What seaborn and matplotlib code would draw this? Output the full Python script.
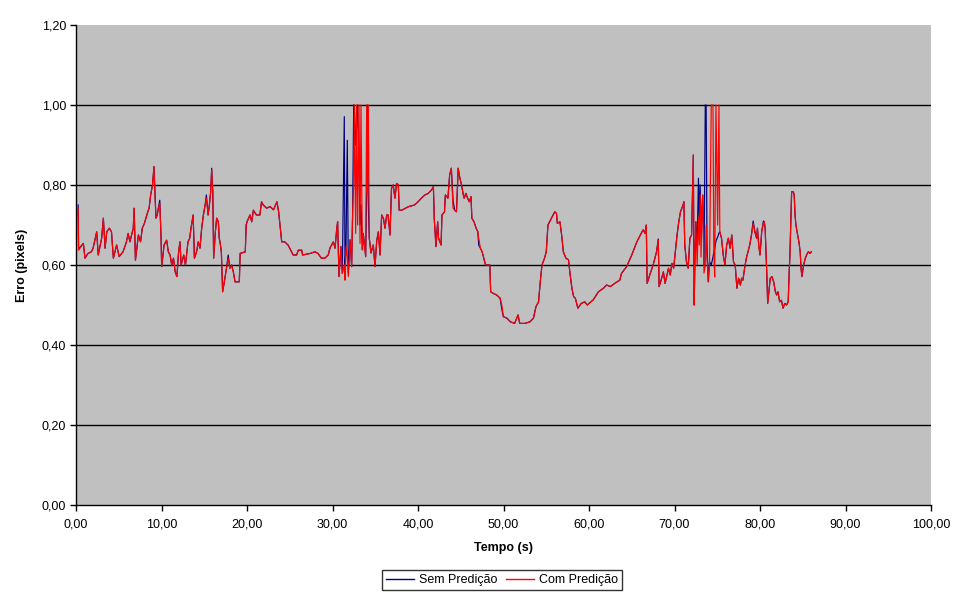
import matplotlib
matplotlib.use("Agg")
import matplotlib.pyplot as plt
import seaborn as sns
import pandas as pd
from matplotlib.ticker import FuncFormatter, MultipleLocator

# ---------------- data ----------------
tempo = [
    # 0 - 11 s
    0.25, 0.3, 0.86, 1.05, 1.4, 1.8, 2.0, 2.42, 2.6, 3.0,
    3.2, 3.4, 3.6, 3.9, 4.15, 4.37, 4.75, 5.05, 5.5, 5.9,
    6.1, 6.3, 6.7, 6.8, 6.95, 7.3, 7.55, 7.75, 8.0, 8.34,
    8.55, 8.73, 8.95, 9.12, 9.24, 9.35, 9.5, 9.63, 9.8, 9.95,
    10.02, 10.3, 10.6, 10.8, 11.0,
    # 11 - 22 s
    11.2, 11.4, 11.6, 11.8, 12.0, 12.16, 12.3, 12.6, 12.8, 13.1,
    13.3, 13.45, 13.7, 13.85, 14.1, 14.3, 14.5, 14.7, 14.9, 15.1,
    15.25, 15.45, 15.6, 15.75, 15.87, 16.0, 16.1, 16.3, 16.45, 16.65,
    16.75, 16.84, 17.0, 17.15, 17.35, 17.6, 17.8, 18.0, 18.2, 18.4,
    18.6, 18.9, 19.1, 19.2, 19.8, 19.9, 20.0, 20.35, 20.55, 20.75,
    21.1, 21.5, 21.7, 21.9,
    # 22 - 30.5 s
    22.3, 22.7, 23.1, 23.5, 23.7, 23.9, 24.06, 24.4, 24.8, 25.2,
    25.4, 25.8, 26.0, 26.4, 26.5, 27.4, 27.95, 28.3, 28.7, 29.1,
    29.5, 29.7, 29.9, 30.1, 30.3, 30.5,
    # 30.6 - 35.4 s (spikes)
    30.6, 30.76, 30.99, 31.15, 31.38, 31.46, 31.58, 31.73, 31.85, 32.05,
    32.24, 32.36, 32.48, 32.55, 32.71, 32.82, 32.94, 33.1, 33.22, 33.33,
    33.49, 33.6, 33.88, 34.0, 34.07, 34.19, 34.3, 34.5, 34.77, 34.97,
    35.17, 35.36,
    # 35.5 - 44.5 s
    35.56, 35.75, 35.95, 36.14, 36.34, 36.5, 36.73, 36.9, 37.1, 37.3,
    37.5, 37.7, 37.8, 38.1, 38.9, 39.6, 40.0, 40.4, 40.8, 41.2,
    41.6, 41.8, 41.9, 42.1, 42.3, 42.4, 42.7, 42.8, 43.1, 43.2,
    43.5, 43.7, 43.9, 44.1, 44.3, 44.5,
    # 44.7 - 55.2 s
    44.7, 44.9, 45.1, 45.3, 45.4, 45.6, 45.8, 46.0, 46.2, 46.3,
    46.55, 46.8, 47.0, 47.1, 47.3, 47.5, 47.7, 47.9, 48.1, 48.4,
    48.5, 48.8, 49.2, 49.6, 49.8, 49.98, 50.4, 50.8, 51.3, 51.7,
    51.9, 52.5, 53.1, 53.5, 53.8, 54.1, 54.3, 54.5, 54.8, 55.0,
    55.2,
    # 55.6 - 66.2 s
    55.6, 55.8, 56.0, 56.2, 56.3, 56.6, 56.8, 57.0, 57.3, 57.6,
    57.8, 58.0, 58.2, 58.4, 58.7, 59.1, 59.5, 59.8, 60.5, 61.1,
    61.7, 62.06, 62.5, 63.0, 63.6, 63.8, 64.4, 65.0, 65.6, 66.2,
    # 66.3 - 77.1 s
    66.35, 66.55, 66.7, 66.8, 67.1, 67.5, 67.9, 68.1, 68.2, 68.5,
    68.7, 68.9, 69.3, 69.5, 69.7, 69.9, 70.3, 70.5, 70.7, 71.0,
    71.1, 71.2, 71.4, 71.6, 71.8, 72.0, 72.2, 72.3, 72.4, 72.5,
    72.65, 72.8, 72.9, 73.0, 73.1, 73.2, 73.3, 73.45, 73.6, 73.7,
    73.8, 73.95, 74.1, 74.3, 74.5, 74.6, 74.7, 74.85, 75.05, 75.2,
    75.3, 75.5, 75.7, 75.9, 76.1, 76.3, 76.5, 76.7, 76.9, 77.1,
    # 77.3 - 86 s
    77.3, 77.5, 77.7, 77.85, 78.0, 78.2, 78.4, 78.6, 78.8, 79.0,
    79.2, 79.4, 79.6, 79.7, 79.85, 80.0, 80.2, 80.4, 80.5, 80.6,
    80.8, 80.9, 81.2, 81.4, 81.6, 81.8, 81.95, 82.1, 82.3, 82.5,
    82.7, 82.9, 83.1, 83.3, 83.4, 83.5, 83.7, 83.9, 84.0, 84.1,
    84.2, 84.4, 84.55, 84.7, 84.8, 84.9, 85.1, 85.3, 85.45, 85.65,
    85.85, 86.0,
]

com_predicao = [
    # 0 - 11 s
    0.74, 0.637, 0.654, 0.617, 0.629, 0.633, 0.642, 0.683, 0.625, 0.667,
    0.717, 0.642, 0.683, 0.692, 0.683, 0.617, 0.65, 0.621, 0.633, 0.658,
    0.679, 0.658, 0.692, 0.742, 0.612, 0.675, 0.658, 0.692, 0.704, 0.729,
    0.742, 0.775, 0.80, 0.846, 0.775, 0.717, 0.725, 0.742, 0.754, 0.667,
    0.596, 0.65, 0.662, 0.633, 0.625,
    # 11 - 22 s
    0.60, 0.617, 0.583, 0.571, 0.633, 0.658, 0.60, 0.625, 0.60, 0.658,
    0.667, 0.692, 0.725, 0.617, 0.633, 0.658, 0.642, 0.692, 0.725, 0.75,
    0.767, 0.725, 0.75, 0.783, 0.838, 0.783, 0.617, 0.683, 0.717, 0.708,
    0.667, 0.658, 0.633, 0.533, 0.558, 0.592, 0.617, 0.592, 0.60, 0.583,
    0.558, 0.558, 0.558, 0.629, 0.633, 0.70, 0.708, 0.725, 0.708, 0.737,
    0.725, 0.725, 0.758, 0.75,
    # 22 - 30.5 s
    0.742, 0.746, 0.738, 0.758, 0.733, 0.692, 0.658, 0.658, 0.65, 0.633,
    0.625, 0.625, 0.637, 0.637, 0.625, 0.629, 0.633, 0.629, 0.617, 0.617,
    0.625, 0.642, 0.65, 0.658, 0.642, 0.692,
    # 30.6 - 35.4 s (spikes)
    0.708, 0.571, 0.646, 0.579, 0.60, 0.562, 0.646, 0.62, 0.571, 0.663,
    0.596, 0.737, 0.80, 1.0, 0.679, 1.0, 0.70, 1.0, 0.654, 1.0,
    0.638, 0.679, 0.621, 1.0, 0.78, 1.0, 0.667, 0.63, 0.65, 0.596,
    0.66, 0.683,
    # 35.5 - 44.5 s
    0.625, 0.725, 0.717, 0.692, 0.725, 0.725, 0.675, 0.792, 0.80, 0.767,
    0.804, 0.80, 0.737, 0.737, 0.746, 0.75, 0.758, 0.767, 0.775, 0.779,
    0.788, 0.796, 0.717, 0.646, 0.708, 0.667, 0.65, 0.725, 0.733, 0.775,
    0.767, 0.825, 0.842, 0.742, 0.737, 0.733,
    # 44.7 - 55.2 s
    0.842, 0.817, 0.80, 0.775, 0.767, 0.779, 0.767, 0.758, 0.771, 0.717,
    0.708, 0.692, 0.683, 0.667, 0.642, 0.633, 0.617, 0.60, 0.60, 0.60,
    0.533, 0.529, 0.525, 0.517, 0.50, 0.471, 0.467, 0.458, 0.454, 0.475,
    0.454, 0.454, 0.458, 0.467, 0.496, 0.508, 0.558, 0.60, 0.617, 0.633,
    0.70,
    # 55.6 - 66.2 s
    0.717, 0.725, 0.733, 0.729, 0.704, 0.708, 0.675, 0.633, 0.617, 0.613,
    0.575, 0.542, 0.521, 0.517, 0.492, 0.504, 0.508, 0.50, 0.513, 0.533,
    0.542, 0.55, 0.546, 0.554, 0.562, 0.579, 0.596, 0.625, 0.658, 0.683,
    # 66.3 - 77.1 s
    0.688, 0.679, 0.70, 0.554, 0.575, 0.60, 0.633, 0.662, 0.546, 0.567,
    0.583, 0.554, 0.592, 0.575, 0.604, 0.592, 0.675, 0.708, 0.733, 0.75,
    0.758, 0.65, 0.608, 0.592, 0.667, 0.675, 0.875, 0.50, 0.625, 0.708,
    0.60, 0.72, 0.65, 0.775, 0.62, 0.725, 0.775, 0.58, 0.60, 0.70,
    0.617, 0.558, 0.608, 1.0, 1.0, 0.633, 0.57, 1.0, 0.70, 1.0,
    0.683, 0.667, 0.625, 0.60, 0.65, 0.667, 0.642, 0.675, 0.608, 0.60,
    # 77.3 - 86 s
    0.542, 0.567, 0.55, 0.567, 0.562, 0.592, 0.617, 0.633, 0.65, 0.675,
    0.704, 0.683, 0.667, 0.692, 0.65, 0.625, 0.683, 0.704, 0.708, 0.692,
    0.575, 0.504, 0.567, 0.571, 0.558, 0.533, 0.525, 0.533, 0.508, 0.512,
    0.492, 0.504, 0.50, 0.508, 0.575, 0.625, 0.783, 0.783, 0.775, 0.725,
    0.70, 0.675, 0.658, 0.633, 0.592, 0.571, 0.60, 0.617, 0.625, 0.633,
    0.629, 0.633,
]

sem_predicao = [
    # 0 - 11 s
    0.75, 0.64, 0.654, 0.617, 0.629, 0.633, 0.642, 0.683, 0.625, 0.667,
    0.717, 0.642, 0.683, 0.692, 0.683, 0.617, 0.65, 0.621, 0.633, 0.658,
    0.679, 0.658, 0.692, 0.742, 0.612, 0.675, 0.658, 0.692, 0.704, 0.729,
    0.742, 0.775, 0.80, 0.846, 0.775, 0.717, 0.725, 0.742, 0.762, 0.667,
    0.596, 0.65, 0.662, 0.633, 0.625,
    # 11 - 22 s
    0.60, 0.617, 0.583, 0.571, 0.633, 0.658, 0.60, 0.625, 0.60, 0.658,
    0.667, 0.692, 0.725, 0.617, 0.633, 0.658, 0.642, 0.692, 0.725, 0.75,
    0.775, 0.725, 0.75, 0.783, 0.842, 0.783, 0.617, 0.683, 0.717, 0.708,
    0.667, 0.658, 0.633, 0.533, 0.558, 0.592, 0.625, 0.592, 0.60, 0.583,
    0.558, 0.558, 0.558, 0.629, 0.633, 0.70, 0.708, 0.725, 0.708, 0.737,
    0.725, 0.725, 0.758, 0.75,
    # 22 - 30.5 s
    0.742, 0.746, 0.738, 0.758, 0.733, 0.692, 0.658, 0.658, 0.65, 0.633,
    0.625, 0.625, 0.637, 0.637, 0.625, 0.629, 0.633, 0.629, 0.617, 0.617,
    0.625, 0.642, 0.65, 0.658, 0.642, 0.692,
    # 30.6 - 35.4 s (spikes)
    0.708, 0.571, 0.646, 0.579, 0.971, 0.60, 0.646, 0.912, 0.58, 0.663,
    0.596, 0.737, 1.0, 1.0, 0.90, 0.95, 1.0, 0.85, 0.70, 0.75,
    0.638, 0.679, 0.621, 0.80, 1.0, 0.75, 0.667, 0.63, 0.65, 0.596,
    0.66, 0.683,
    # 35.5 - 44.5 s
    0.625, 0.725, 0.717, 0.692, 0.725, 0.725, 0.675, 0.792, 0.80, 0.767,
    0.804, 0.80, 0.737, 0.737, 0.746, 0.75, 0.758, 0.767, 0.775, 0.779,
    0.788, 0.796, 0.717, 0.646, 0.708, 0.667, 0.65, 0.725, 0.733, 0.775,
    0.767, 0.825, 0.842, 0.76, 0.737, 0.733,
    # 44.7 - 55.2 s
    0.842, 0.817, 0.80, 0.775, 0.767, 0.779, 0.767, 0.758, 0.771, 0.717,
    0.708, 0.692, 0.683, 0.65, 0.642, 0.633, 0.617, 0.60, 0.60, 0.60,
    0.533, 0.529, 0.525, 0.517, 0.49, 0.471, 0.467, 0.458, 0.454, 0.475,
    0.454, 0.454, 0.458, 0.467, 0.496, 0.508, 0.558, 0.60, 0.617, 0.633,
    0.70,
    # 55.6 - 66.2 s
    0.717, 0.725, 0.733, 0.729, 0.704, 0.708, 0.675, 0.633, 0.617, 0.613,
    0.575, 0.542, 0.521, 0.517, 0.492, 0.504, 0.508, 0.50, 0.513, 0.533,
    0.542, 0.55, 0.546, 0.554, 0.562, 0.579, 0.596, 0.625, 0.658, 0.683,
    # 66.3 - 77.1 s
    0.688, 0.679, 0.70, 0.554, 0.575, 0.60, 0.633, 0.665, 0.546, 0.567,
    0.583, 0.554, 0.592, 0.575, 0.604, 0.592, 0.675, 0.708, 0.733, 0.75,
    0.758, 0.65, 0.608, 0.592, 0.667, 0.675, 0.875, 0.50, 0.625, 0.708,
    0.65, 0.817, 0.70, 0.80, 0.70, 0.725, 0.775, 0.60, 1.0, 1.0,
    0.65, 0.558, 0.608, 0.60, 0.62, 0.633, 0.64, 0.66, 0.67, 0.68,
    0.683, 0.667, 0.625, 0.60, 0.65, 0.667, 0.642, 0.675, 0.608, 0.60,
    # 77.3 - 86 s
    0.542, 0.567, 0.55, 0.567, 0.562, 0.592, 0.617, 0.633, 0.65, 0.675,
    0.71, 0.683, 0.667, 0.692, 0.65, 0.625, 0.683, 0.71, 0.708, 0.692,
    0.575, 0.504, 0.567, 0.571, 0.558, 0.533, 0.525, 0.533, 0.508, 0.512,
    0.492, 0.504, 0.50, 0.508, 0.575, 0.625, 0.783, 0.783, 0.775, 0.725,
    0.70, 0.675, 0.658, 0.633, 0.592, 0.571, 0.60, 0.617, 0.625, 0.633,
    0.629, 0.633,
]

series_names = ["Sem Predição", "Com Predição"]
series_colors = ["#000080", "#FF0000"]
x_label = "Tempo (s)"
y_label = "Erro (pixels)"

assert len(tempo) == len(com_predicao) == len(sem_predicao)

df = pd.concat([
    pd.DataFrame({"Tempo": tempo, "Erro": sem_predicao, "Série": series_names[0]}),
    pd.DataFrame({"Tempo": tempo, "Erro": com_predicao, "Série": series_names[1]}),
], ignore_index=True)

# ---------------- figure ----------------
plt.rcParams["font.family"] = ["Liberation Sans", "DejaVu Sans"]

fig = plt.figure(figsize=(9.66, 6.01), dpi=100)
ax = fig.add_axes([76 / 966, 96 / 601, 855 / 966, 480 / 601])
ax.set_facecolor("#C0C0C0")

sns.lineplot(data=df, x="Tempo", y="Erro", hue="Série", hue_order=series_names,
             palette=series_colors, estimator=None, sort=False,
             linewidth=0.85, ax=ax, legend=True)

ax.set_xlim(0, 100)
ax.set_ylim(0, 1.2)
ax.xaxis.set_major_locator(MultipleLocator(10))
ax.yaxis.set_major_locator(MultipleLocator(0.2))
fmt = FuncFormatter(lambda v, p: f"{v:.2f}".replace(".", ","))
ax.xaxis.set_major_formatter(fmt)
ax.yaxis.set_major_formatter(fmt)

ax.grid(False)
for yv in [0.2, 0.4, 0.6, 0.8, 1.0]:
    ax.axhline(yv, color="black", linewidth=1.0, zorder=0.5)

for s in ["top", "right"]:
    ax.spines[s].set_visible(False)
for s in ["left", "bottom"]:
    ax.spines[s].set_color("black")
    ax.spines[s].set_linewidth(1.0)

ax.tick_params(axis="both", direction="out", length=4, width=1, colors="black",
               labelsize=9, pad=3)
ax.tick_params(axis="x", pad=6)

ax.set_xlabel(x_label, fontsize=9, fontweight="bold", labelpad=8)
ax.set_ylabel(y_label, fontsize=9, fontweight="bold", labelpad=10)

handles, labels = ax.get_legend_handles_labels()
ax.get_legend().remove()
for h in handles:
    h.set_linewidth(1.0)
leg = fig.legend(handles, labels, loc="center", bbox_to_anchor=(502 / 966, 21 / 601),
                 ncol=2, frameon=True, fancybox=False, edgecolor="black",
                 facecolor="white", fontsize=9, handlelength=2.2,
                 handletextpad=0.4, columnspacing=0.7, borderpad=0.35,
                 borderaxespad=0)
leg.get_frame().set_linewidth(1.0)

fig.savefig("out.png", dpi=100, facecolor="white")
